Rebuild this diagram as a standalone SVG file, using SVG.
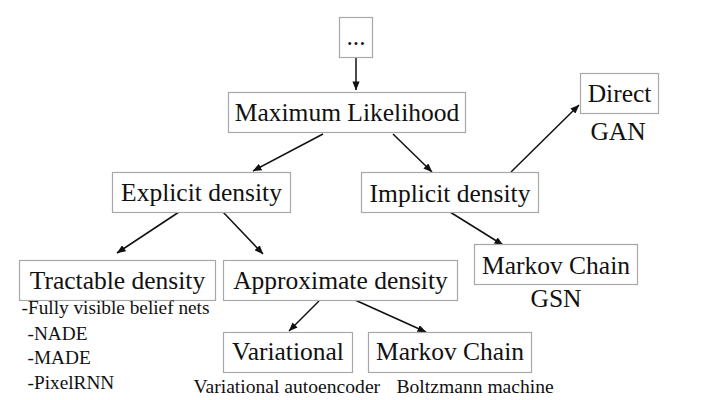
<svg xmlns="http://www.w3.org/2000/svg" width="720" height="400" viewBox="0 0 720 400">
<style>
  .box { fill: #ffffff; stroke: #a8a8a8; stroke-width: 1.2; }
  .edge { fill: none; stroke: #111111; stroke-width: 1.5; marker-end: url(#arr); }
</style>
<defs>
  <marker id="arr" viewBox="0 0 10 8" refX="9.5" refY="4" markerWidth="9" markerHeight="7.2" markerUnits="userSpaceOnUse" orient="auto">
    <path d="M0,0 L10,4 L0,8 z" fill="#111111"/>
  </marker>
</defs>
<rect width="720" height="400" fill="#ffffff"/>

<g id="connectors">
  <path class="edge" d="M356,57 L356,90"/>
  <path class="edge" d="M323,134 L253,171"/>
  <path class="edge" d="M393,134 L432,172"/>
  <path class="edge" d="M179,212 L117,253"/>
  <path class="edge" d="M223,212 L263,254"/>
  <path class="edge" d="M450,212 L503,245"/>
  <path class="edge" d="M511,172 L579,105"/>
  <path class="edge" d="M319,301 L289,331"/>
  <path class="edge" d="M355,300 L426,332"/>
</g>

<g id="node-dots">
  <rect class="box" x="339.5" y="17.5" width="33" height="40"/>
  <text font-family="Liberation Serif, serif" font-size="25.5" fill="#111" text-anchor="middle" x="356" y="45">...</text>
</g>
<g id="node-ml">
  <rect class="box" x="228.5" y="92.5" width="237" height="40"/>
  <text font-family="Liberation Serif, serif" font-size="25.5" fill="#111" text-anchor="middle" x="347" y="121">Maximum Likelihood</text>
</g>
<g id="node-explicit">
  <rect class="box" x="112.5" y="172.5" width="178" height="40"/>
  <text font-family="Liberation Serif, serif" font-size="25.5" fill="#111" text-anchor="middle" x="201.5" y="201">Explicit density</text>
</g>
<g id="node-implicit">
  <rect class="box" x="361.5" y="172.5" width="177" height="40"/>
  <text font-family="Liberation Serif, serif" font-size="25.5" fill="#111" text-anchor="middle" x="450" y="201.5">Implicit density</text>
</g>
<g id="node-direct">
  <rect class="box" x="580.5" y="73.5" width="78" height="40"/>
  <text font-family="Liberation Serif, serif" font-size="25.5" fill="#111" text-anchor="middle" x="619.5" y="102">Direct</text>
  <text font-family="Liberation Serif, serif" font-size="25.5" fill="#111" text-anchor="middle" x="618" y="140">GAN</text>
</g>
<g id="node-markov-gsn">
  <rect class="box" x="474.5" y="244.5" width="163" height="40"/>
  <text font-family="Liberation Serif, serif" font-size="25.5" fill="#111" text-anchor="middle" x="556" y="273.5">Markov Chain</text>
  <text font-family="Liberation Serif, serif" font-size="25.5" fill="#111" text-anchor="middle" x="556" y="307">GSN</text>
</g>
<g id="node-tractable">
  <rect class="box" x="19.5" y="260.5" width="196" height="40"/>
  <text font-family="Liberation Serif, serif" font-size="25.5" fill="#111" text-anchor="middle" x="117.5" y="288.5">Tractable density</text>
  <text font-family="Liberation Serif, serif" font-size="19.3" fill="#111" x="21.5" y="314">-Fully visible belief nets</text>
  <text font-family="Liberation Serif, serif" font-size="19.3" fill="#111" x="27.5" y="339.5">-NADE</text>
  <text font-family="Liberation Serif, serif" font-size="19.3" fill="#111" x="27.5" y="364">-MADE</text>
  <text font-family="Liberation Serif, serif" font-size="19.3" fill="#111" x="27.5" y="388.5">-PixelRNN</text>
</g>
<g id="node-approx">
  <rect class="box" x="223.5" y="260.5" width="234" height="40"/>
  <text font-family="Liberation Serif, serif" font-size="25.5" fill="#111" text-anchor="middle" x="340.5" y="288.5">Approximate density</text>
</g>
<g id="node-variational">
  <rect class="box" x="223.5" y="332.5" width="129" height="40"/>
  <text font-family="Liberation Serif, serif" font-size="25.5" fill="#111" text-anchor="middle" x="288" y="360">Variational</text>
  <text font-family="Liberation Serif, serif" font-size="19.6" fill="#111" x="193.5" y="393">Variational autoencoder</text>
</g>
<g id="node-markov-bm">
  <rect class="box" x="368.5" y="332.5" width="163" height="40"/>
  <text font-family="Liberation Serif, serif" font-size="25.5" fill="#111" text-anchor="middle" x="450" y="360">Markov Chain</text>
  <text font-family="Liberation Serif, serif" font-size="19.6" fill="#111" x="396.5" y="393">Boltzmann machine</text>
</g>
</svg>
